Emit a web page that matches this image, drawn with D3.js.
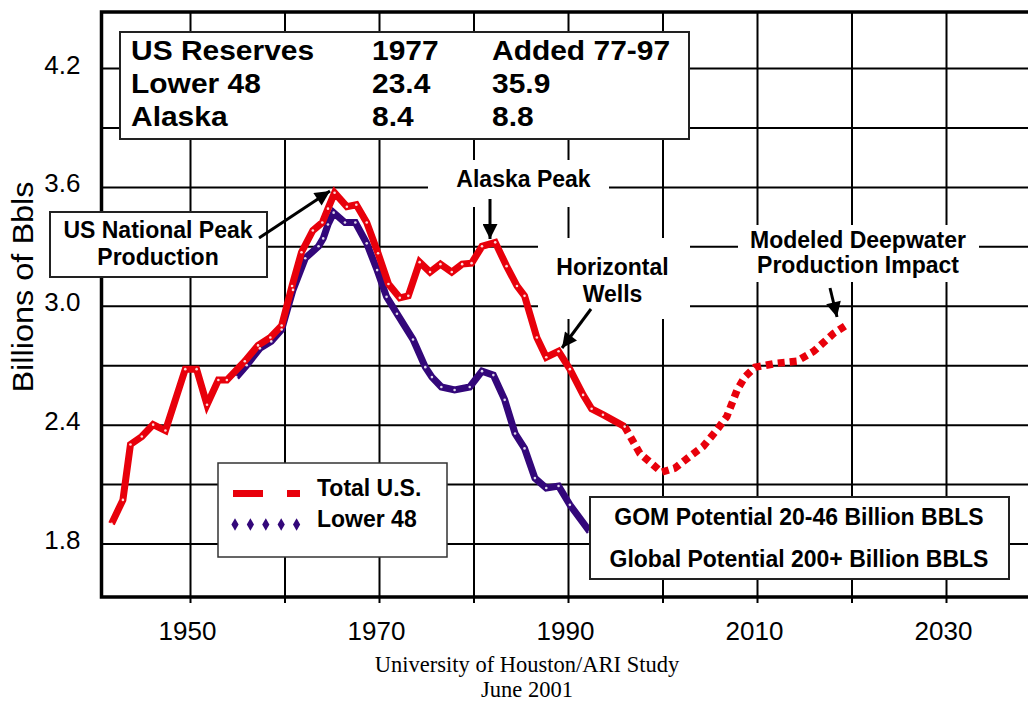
<!DOCTYPE html>
<html>
<head>
<meta charset="utf-8">
<script src="https://cdn.jsdelivr.net/npm/d3@7"></script>
<style>
  html, body { margin: 0; padding: 0; background: #fff; }
  svg { display: block; }
  text { font-family: "Liberation Sans", Arial, sans-serif; fill: #000; }
</style>
</head>
<body>
<div id="chart"></div>
<script>
// US oil production, billions of barrels per year (as drawn on the chart's own year axis)

const totalYears = [1941.7, 1942.9, 1943.7, 1944.9, 1946.1, 1947.4, 1949.5, 1950.7, 1951.8, 1953.0,
  1953.9, 1955.8, 1957.2, 1958.5, 1959.7, 1960.8, 1961.8, 1963.0, 1964.0, 1964.6,
  1965.3, 1966.6, 1967.6, 1968.7, 1969.9, 1971.0, 1972.2, 1973.1, 1974.3, 1975.4,
  1976.5, 1977.7, 1978.8, 1979.8, 1980.9, 1982.3, 1983.5, 1984.6, 1985.4, 1986.7,
  1987.7, 1989.0, 1990.2, 1991.6, 1992.5, 1993.7, 1996.0];
const totalValues = [1.90, 2.02, 2.30, 2.34, 2.40, 2.37, 2.68, 2.68, 2.50, 2.625,
  2.625, 2.72, 2.80, 2.84, 2.90, 3.10, 3.27, 3.38, 3.42, 3.49,
  3.57, 3.50, 3.51, 3.42, 3.265, 3.11, 3.04, 3.05, 3.22, 3.17,
  3.21, 3.17, 3.21, 3.215, 3.30, 3.32, 3.20, 3.10, 3.05, 2.84,
  2.74, 2.77, 2.68, 2.55, 2.48, 2.45, 2.39];

// modeled deepwater impact (dotted)
const projYears = [1996.0, 1997.6, 1998.7, 1999.9, 2001.3, 2002.9, 2004.3, 2005.7, 2006.8, 2007.9,
  2008.7, 2009.8, 2012.1, 2014.2, 2016.0, 2018.1, 2019.7];
const projValues = [2.39, 2.255, 2.21, 2.16, 2.18, 2.24, 2.29, 2.37, 2.44, 2.575,
  2.64, 2.69, 2.71, 2.72, 2.77, 2.86, 2.91];

const lowerYears = [1954.9, 1956.0, 1957.4, 1958.6, 1959.7, 1960.9, 1962.2, 1963.6, 1964.1, 1964.6,
  1965.2, 1966.4, 1967.5, 1968.7, 1969.8, 1970.8, 1971.9, 1973.6, 1974.9, 1975.6,
  1976.6, 1978.0, 1979.6, 1980.9, 1982.1, 1983.3, 1984.4, 1985.4, 1986.5, 1987.7,
  1989.0, 1990.2, 1992.3];
const lowerValues = [2.64, 2.70, 2.785, 2.82, 2.88, 3.08, 3.24, 3.30, 3.34, 3.41,
  3.47, 3.42, 3.42, 3.315, 3.18, 3.045, 2.96, 2.83, 2.69, 2.64,
  2.59, 2.575, 2.59, 2.67, 2.65, 2.525, 2.355, 2.28, 2.13, 2.08,
  2.09, 1.995, 1.86];

const xGridYears = [1950, 1960, 1970, 1980, 1990, 2000, 2010, 2020, 2030, 2040];
const xLabelYears = [1950, 1970, 1990, 2010, 2030];
const yGridValues = [1.8, 2.1, 2.4, 2.7, 3.0, 3.3, 3.6, 3.9, 4.2];
const yLabelValues = [1.8, 2.4, 3.0, 3.6, 4.2];

const tableRows = [
  ["US Reserves", "1977", "Added 77-97"],
  ["Lower 48", "23.4", "35.9"],
  ["Alaska", "8.4", "8.8"]
];
const seriesNames = ["Total U.S.", "Lower 48"];

const RED = "#e8000b";
const PURPLE = "#33077a";

const W = 1028, H = 704;
const LEFT = 101.5, TOP = 12, BOTTOM = 597;

const svg = d3.select("#chart").append("svg")
  .attr("width", W).attr("height", H)
  .attr("viewBox", `0 0 ${W} ${H}`);

svg.append("rect").attr("width", W).attr("height", H).attr("fill", "#fff");

const x = d3.scaleLinear().domain([1950, 2030]).range([190, 946]);
const y = d3.scaleLinear().domain([1.8, 4.2]).range([543.5, 68]);

const defs = svg.append("defs");
defs.append("clipPath").attr("id", "plotclip")
  .append("rect").attr("x", LEFT).attr("y", TOP).attr("width", W - LEFT).attr("height", BOTTOM - TOP);
defs.append("marker")
  .attr("id", "arrow")
  .attr("viewBox", "0 0 10 10")
  .attr("refX", 10).attr("refY", 5)
  .attr("markerUnits", "userSpaceOnUse")
  .attr("markerWidth", 16).attr("markerHeight", 15)
  .attr("orient", "auto")
  .append("path").attr("d", "M0,0 L10,5 L0,10 z").attr("fill", "#000");

// grid
const gridX = svg.append("g")
  .attr("transform", `translate(0,${BOTTOM + 6})`)
  .call(d3.axisBottom(x).tickValues(xGridYears).tickSize(-(BOTTOM + 6 - TOP)).tickFormat(""));
gridX.select(".domain").remove();
gridX.selectAll("line").attr("stroke", "#000").attr("stroke-width", 2);

const gridY = svg.append("g")
  .attr("transform", `translate(${LEFT},0)`)
  .call(d3.axisLeft(y).tickValues(yGridValues).tickSize(-(W - LEFT)).tickFormat(""));
gridY.select(".domain").remove();
gridY.selectAll("line").attr("stroke", "#000").attr("stroke-width", 2);

// frame (left, top, bottom)
svg.append("path")
  .attr("d", `M${W},${TOP} H${LEFT} V${BOTTOM} H${W}`)
  .attr("fill", "none").attr("stroke", "#000").attr("stroke-width", 3.5);

// axis labels
const xLab = svg.append("g")
  .attr("transform", `translate(0,${BOTTOM})`)
  .call(d3.axisBottom(x).tickValues(xLabelYears).tickSize(0).tickFormat(d3.format("d")));
xLab.select(".domain").remove();
xLab.selectAll("text")
  .attr("y", 43).attr("dy", 0).attr("dx", -3)
  .style("font-size", "26px").style("font-family", "Liberation Sans, Arial, sans-serif");

const yLab = svg.append("g")
  .attr("transform", `translate(${LEFT},0)`)
  .call(d3.axisLeft(y).tickValues(yLabelValues).tickSize(0).tickPadding(21).tickFormat(d3.format(".1f")));
yLab.select(".domain").remove();
yLab.selectAll("text")
  .attr("dy", 5)
  .style("font-size", "26px").style("font-family", "Liberation Sans, Arial, sans-serif");

svg.append("text")
  .attr("transform", "translate(33,287) rotate(-90) scale(1.12,1)")
  .attr("text-anchor", "middle")
  .style("font-size", "29px")
  .text("Billions of Bbls");

// series
const line = d3.line().x(d => x(d[0])).y(d => y(d[1]));
const lowerPts = lowerYears.map((yr, i) => [yr, lowerValues[i]]);
const totalPts = totalYears.map((yr, i) => [yr, totalValues[i]]);
const projPts = projYears.map((yr, i) => [yr, projValues[i]]);

const plot = svg.append("g").attr("clip-path", "url(#plotclip)");

plot.append("path").datum(lowerPts)
  .attr("d", line).attr("fill", "none")
  .attr("stroke", PURPLE).attr("stroke-width", 7).attr("stroke-linejoin", "miter");

plot.append("path").datum(projPts)
  .attr("d", line).attr("fill", "none")
  .attr("stroke", RED).attr("stroke-width", 7.5)
  .attr("stroke-dasharray", "7,5");

plot.append("path").datum(totalPts)
  .attr("d", line).attr("fill", "none")
  .attr("stroke", RED).attr("stroke-width", 7).attr("stroke-linejoin", "miter");

// little white point markers
plot.selectAll("circle.pt")
  .data(lowerPts.concat(totalPts))
  .enter().append("circle")
  .attr("class", "pt")
  .attr("cx", d => x(d[0])).attr("cy", d => y(d[1]))
  .attr("r", 1.3).attr("fill", "#fff").attr("opacity", 0.85);

// helpers
function textBlock(g, cx, baselines, lines, size, anchor) {
  lines.forEach((t, i) => {
    g.append("text")
      .attr("x", cx).attr("y", baselines[i])
      .attr("text-anchor", anchor || "middle")
      .style("font-size", size + "px").style("font-weight", "bold")
      .text(t);
  });
}
function arrow(x1, y1, x2, y2) {
  svg.append("line")
    .attr("x1", x1).attr("y1", y1).attr("x2", x2).attr("y2", y2)
    .attr("stroke", "#000").attr("stroke-width", 3)
    .attr("marker-end", "url(#arrow)");
}

// reserves table
svg.append("rect")
  .attr("x", 120).attr("y", 32).attr("width", 569).attr("height", 107)
  .attr("fill", "#fff").attr("stroke", "#222").attr("stroke-width", 2);
const colX = [131, 372, 492];
const rowY = [60, 93, 126];
tableRows.forEach((row, r) => {
  row.forEach((cell, c) => {
    svg.append("text")
      .attr("transform", `translate(${colX[c]},${rowY[r]}) scale(1.07,1)`)
      .style("font-size", "28px").style("font-weight", "bold")
      .text(cell);
  });
});

// US National Peak
svg.append("rect")
  .attr("x", 50).attr("y", 212).attr("width", 217).attr("height", 65)
  .attr("fill", "#fff").attr("stroke", "#222").attr("stroke-width", 2);
textBlock(svg, 158, [238, 265], ["US National Peak", "Production"], 23);
arrow(259, 238, 330, 191);

// Alaska Peak
svg.append("rect").attr("x", 428).attr("y", 160).attr("width", 181).attr("height", 47).attr("fill", "#fff");
textBlock(svg, 523.5, [187], ["Alaska Peak"], 23);
arrow(490, 199, 490, 239);

// Horizontal Wells
svg.append("rect").attr("x", 538).attr("y", 238).attr("width", 152).attr("height", 81).attr("fill", "#fff");
textBlock(svg, 612.5, [275, 302], ["Horizontal", "Wells"], 23);
arrow(591, 309, 562, 348);

// Modeled Deepwater
svg.append("rect").attr("x", 738).attr("y", 225).attr("width", 241).attr("height", 57).attr("fill", "#fff");
textBlock(svg, 858, [248, 273], ["Modeled Deepwater", "Production Impact"], 23);
arrow(830, 288, 837, 317);

// GOM box
svg.append("rect")
  .attr("x", 590).attr("y", 497).attr("width", 419).attr("height", 82)
  .attr("fill", "#fff").attr("stroke", "#222").attr("stroke-width", 2);
textBlock(svg, 799, [525, 567], ["GOM Potential 20-46 Billion BBLS", "Global Potential 200+ Billion BBLS"], 23);

// legend
const legend = svg.append("g");
legend.append("rect")
  .attr("x", 218).attr("y", 463).attr("width", 229).attr("height", 94)
  .attr("fill", "#fff").attr("stroke", "#333").attr("stroke-width", 1.5);
legend.append("line")
  .attr("x1", 233).attr("x2", 300).attr("y1", 493.5).attr("y2", 493.5)
  .attr("stroke", RED).attr("stroke-width", 7).attr("stroke-dasharray", "30,24,13");
legend.selectAll("path.sym")
  .data(d3.range(5))
  .enter().append("path")
  .attr("class", "sym")
  .attr("transform", i => `translate(${235 + i * 15.4},524.5)`)
  .attr("d", d3.symbol().type(d3.symbolDiamond).size(45))
  .attr("fill", PURPLE);
textBlock(legend, 317, [496, 527], seriesNames, 23, "start");

// source
svg.append("text")
  .attr("x", 527).attr("y", 672).attr("text-anchor", "middle")
  .style("font-family", "Liberation Serif, Times New Roman, serif").style("font-size", "22.5px")
  .text("University of Houston/ARI Study");
svg.append("text")
  .attr("x", 527).attr("y", 697).attr("text-anchor", "middle")
  .style("font-family", "Liberation Serif, Times New Roman, serif").style("font-size", "22.5px")
  .text("June 2001");
</script>
</body>
</html>
